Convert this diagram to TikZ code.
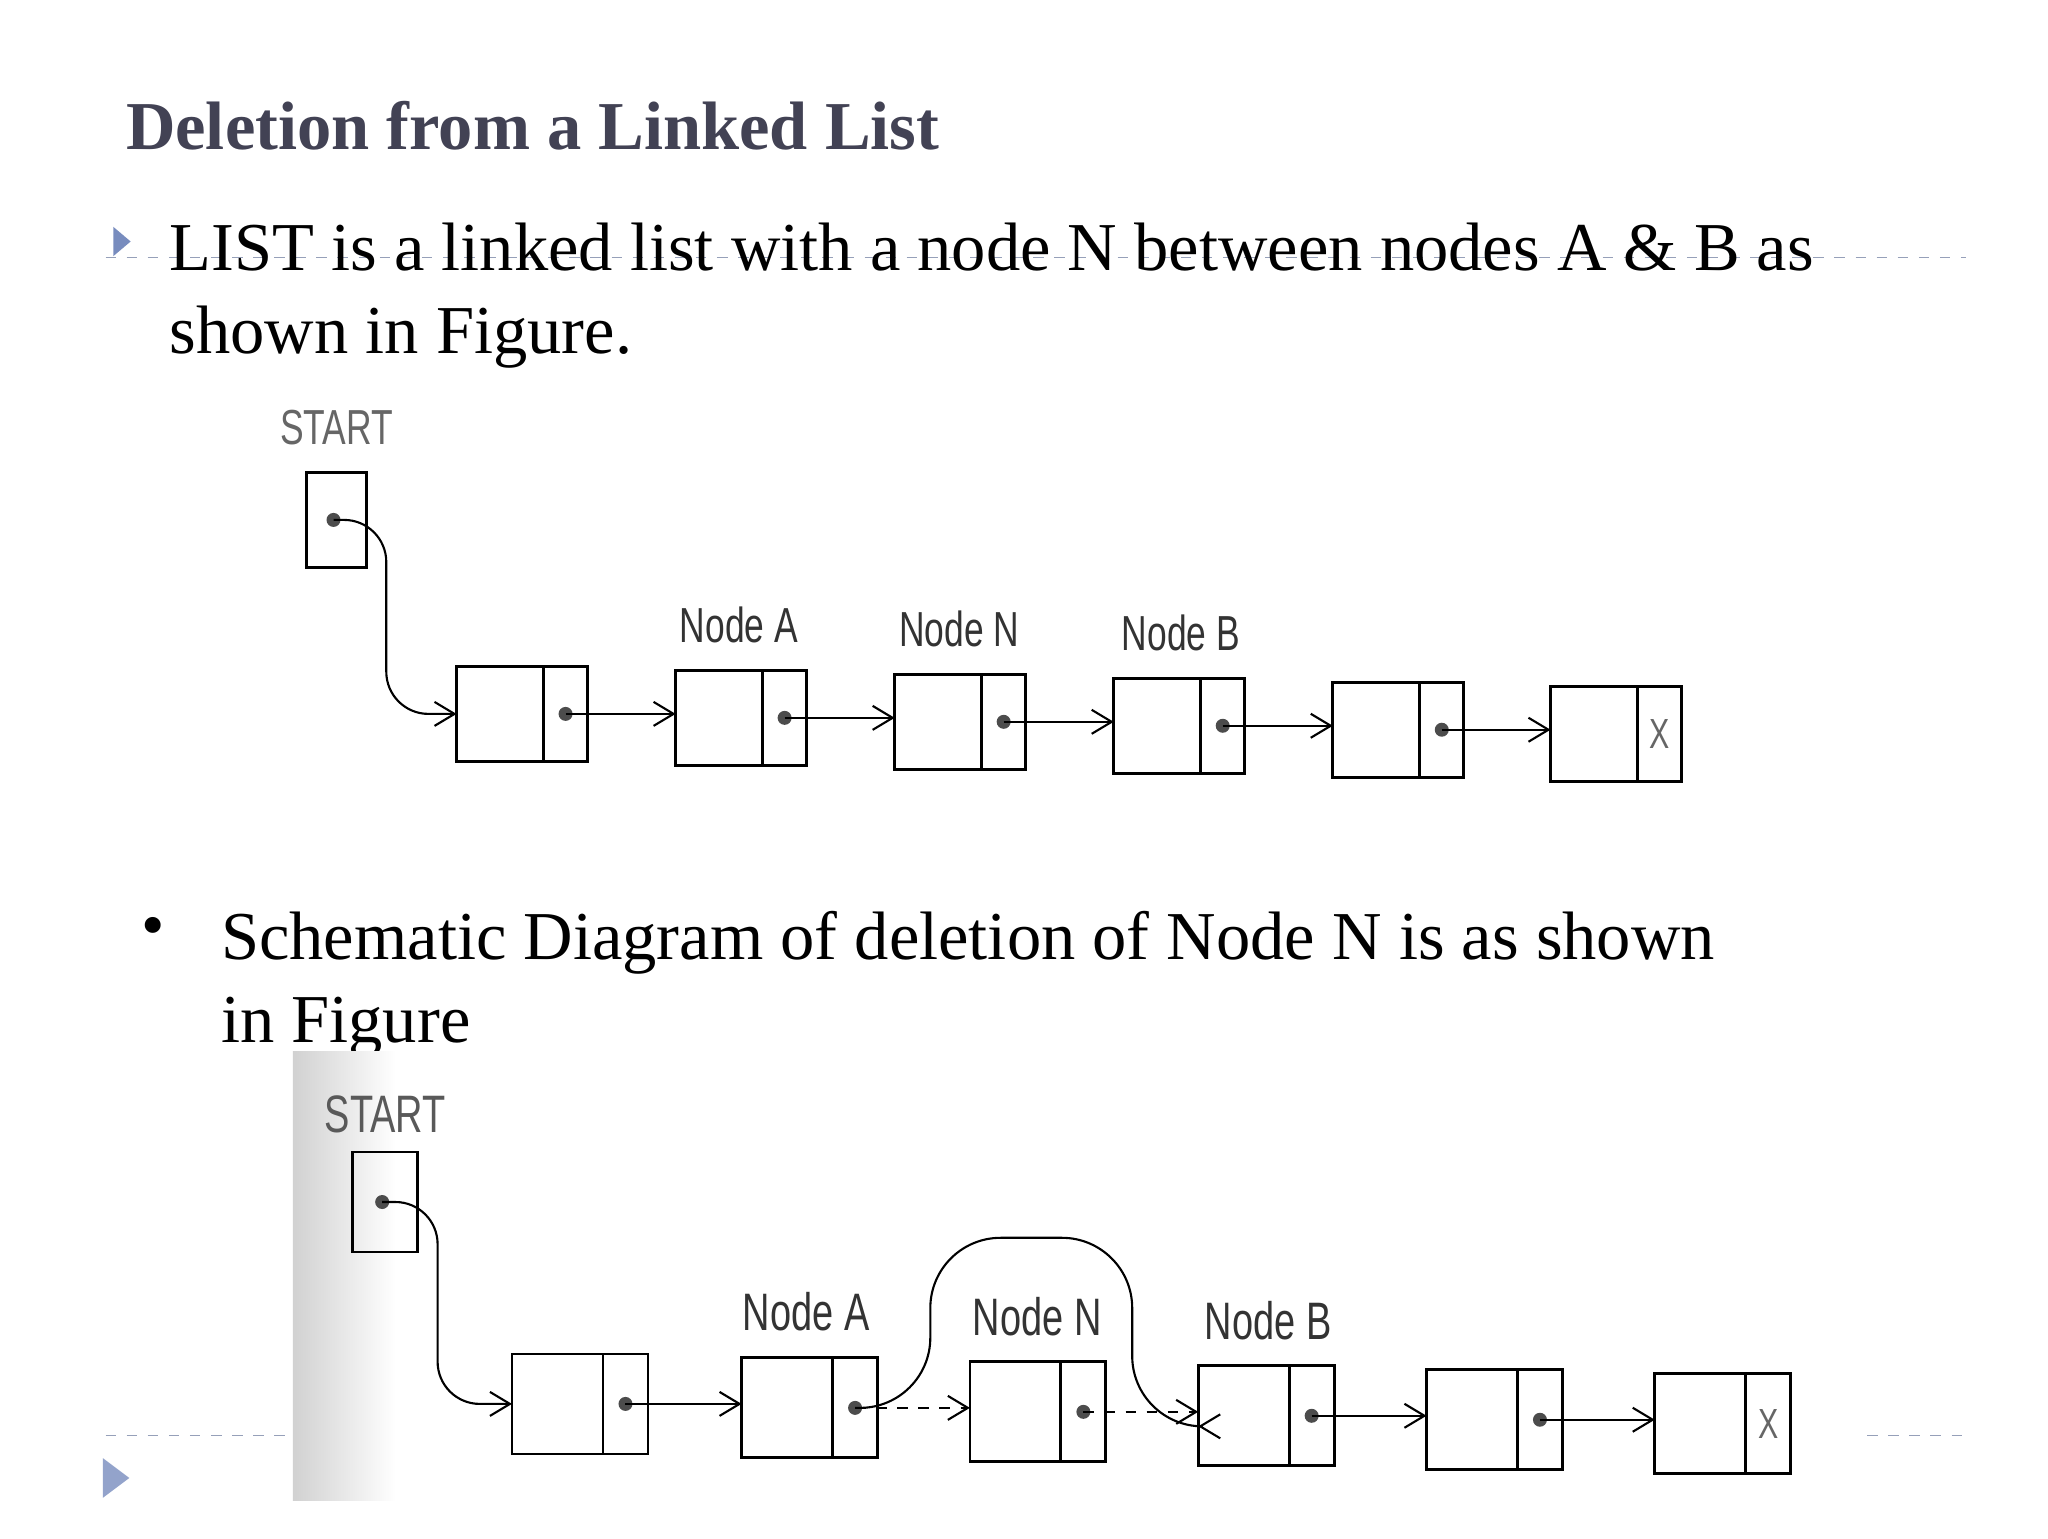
\documentclass[tikz,border=0pt]{standalone}
\usepackage{fontspec}
\setmainfont{Liberation Serif}
\newfontfamily\labelfont[FakeStretch=0.72]{Liberation Sans}
\usetikzlibrary{arrows.meta,positioning,calc}
\definecolor{titlegray}{RGB}{66,66,84}
\definecolor{rulegray}{RGB}{150,160,185}
\definecolor{bulletblue}{RGB}{120,140,190}
\tikzset{
  datacell/.style={draw, thick, inner sep=0pt, outer sep=0pt, anchor=north west},
  ptrcell/.style={draw, thick, inner sep=0pt, outer sep=0pt},
  link/.style={-{Straight Barb[length=2mm,width=2.4mm]}, semithick},
  dot/.style={circle, fill=black!70, inner sep=0pt, minimum size=1.4mm},
  lbl/.style={font=\labelfont\fontsize{14}{14}\selectfont, text=black!80, anchor=base},
  body/.style={font=\fontsize{19.5}{19.5}\selectfont, anchor=base west, inner sep=0pt}
}
\begin{document}
\begin{tikzpicture}[x=0.0132cm, y=-0.0132cm]
\useasboundingbox (0,0) rectangle (1552,1166);

% ---- Heading and text ----
\node[anchor=base west, inner sep=0pt, font=\bfseries\fontsize{19.5}{19.5}\selectfont, text=titlegray] (title) at (95,113) {Deletion from a Linked List};
\draw[rulegray, dashed] (80,195) -- (1490,195);
\fill[bulletblue] (86,172) -- (86,194) -- (99,183) -- cycle;
\node[body] (line1) at (128,205) {LIST is a linked list with a node N between nodes A \& B as};
\node[body] (line2) at (128,268) {shown in Figure.};

% ---- First figure ----
\node[anchor=base, font=\labelfont\fontsize{14}{14}\selectfont, text=black!60] (start1) at (255,337) {START};
\node[datacell, minimum width=0.6cm, minimum height=0.95cm] (s1) at (232,358) {};
\node[dot] (sd1) at ($(s1.center)+(-2,0)$) {};
\foreach \i/\x/\y in {1/346/505,2/512/508,3/678/511,4/844/514,5/1010/517,6/1175/520} {
  \node[datacell, minimum width=0.87cm, minimum height=0.95cm] (d\i) at (\x,\y) {};
  \node[ptrcell, minimum width=0.44cm, minimum height=0.95cm, right=0pt of d\i] (p\i) {};
}
\foreach \i in {1,...,5} \node[dot] at (p\i.center) {};
\node[font=\labelfont\fontsize{12}{12}\selectfont, text=black!60] at (p6.center) {X};
\node[lbl] (la) at (560,487) {Node A};
\node[lbl] (ln) at (727,490) {Node N};
\node[lbl] (lb) at (895,493) {Node B};
\draw[link, rounded corners=12] (sd1.center) -- ++(40,0) |- (d1.west);
\foreach \i [evaluate=\i as \j using int(\i+1)] in {1,...,5}
  \draw[link] (p\i.center) -- (p\i.center -| d\j.west);

% ---- Second bullet ----
\node[font=\fontsize{19}{19}\selectfont, anchor=base] (dot2) at (116,718) {\textbullet};
\node[body] (line3) at (167,727) {Schematic Diagram of deletion of Node N is as shown};
\node[body] (line4) at (167,790) {in Figure};

% ---- Second figure ----
\shade[left color=black!18, right color=white] (222,797) rectangle (300,1137);
\draw[rulegray, dashed] (80,1088) -- (220,1088);
\draw[rulegray, dashed] (1415,1088) -- (1490,1088);
\fill[bulletblue!80] (78,1105) -- (78,1135) -- (98,1120) -- cycle;
\node[anchor=base, font=\labelfont\fontsize{15}{15}\selectfont, text=black!65] (start2) at (292,858) {START};
\node[datacell, minimum width=0.65cm, minimum height=1.0cm] (s2) at (267,873) {};
\node[dot] (sd2) at ($(s2.center)+(-2,0)$) {};
\foreach \i/\x/\y in {1/388/1026,2/562/1029,3/735/1032,4/908/1035,5/1081/1038,6/1254/1041} {
  \node[datacell, minimum width=0.91cm, minimum height=1.0cm] (e\i) at (\x,\y) {};
  \node[ptrcell, minimum width=0.45cm, minimum height=1.0cm, right=0pt of e\i] (q\i) {};
}
\foreach \i in {1,...,5} \node[dot] at (q\i.center) {};
\node[font=\labelfont\fontsize{12}{12}\selectfont, text=black!60] at (q6.center) {X};
\node[lbl, font=\labelfont\fontsize{15}{15}\selectfont] (ma) at (611,1008) {Node A};
\node[lbl, font=\labelfont\fontsize{15}{15}\selectfont] (mn) at (786,1012) {Node N};
\node[lbl, font=\labelfont\fontsize{15}{15}\selectfont] (mb) at (961,1015) {Node B};
\draw[link, rounded corners=12] (sd2.center) -- ++(42,0) |- (e1.west);
\draw[link] (q1.center) -- (q1.center -| e2.west);
\draw[link, dashed] (q2.center) -- (q2.center -| e3.west);
\draw[link, dashed] (q3.center) -- (q3.center -| e4.west);
\draw[link] (q4.center) -- (q4.center -| e5.west);
\draw[link] (q5.center) -- (q5.center -| e6.west);
\coordinate (arcl) at (705,938);
\coordinate (arcr) at (858,938);
\draw[link, rounded corners=20] (q2.center) -| (arcl) -- (arcr) |- ([yshift=-3pt]e4.west);
\end{tikzpicture}
\end{document}
